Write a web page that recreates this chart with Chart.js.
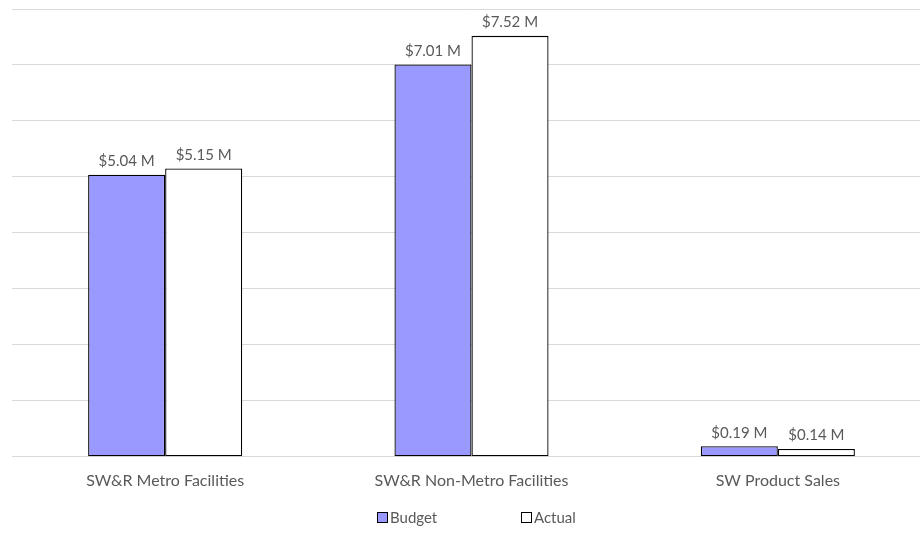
<!DOCTYPE html>
<html>
<head>
<meta charset="utf-8">
<script src="https://cdn.jsdelivr.net/npm/chart.js@4.4.1/dist/chart.umd.min.js"></script>
<style>
    html, body { margin: 0; padding: 0; background: #fff; overflow: hidden; }
    #wrap { width: 920px; height: 542px; overflow: hidden; }
</style>
</head>
<body>
<div id="wrap"><canvas id="budgetChart" width="932" height="542"></canvas></div>
<script>
// Budget vs actual, in millions of dollars
const categories = ['SW&R Metro Facilities', 'SW&R Non-Metro Facilities', 'SW Product Sales'];
const budgetValues = [5.04, 7.01, 0.19];
const actualValues = [5.15, 7.52, 0.14];
const seriesNames = ['Budget', 'Actual'];

const FONT = 'Lato, sans-serif';
const TEXT_COLOR = '#595959';

/**
 * Value labels above each bar
 */
const valueLabels = {
    id: 'valueLabels',
    afterDatasetsDraw(chart) {
        const ctx = chart.ctx;
        ctx.save();
        ctx.font = '15px ' + FONT;
        ctx.fillStyle = TEXT_COLOR;
        ctx.textAlign = 'center';
        ctx.textBaseline = 'bottom';
        chart.data.datasets.forEach((ds, i) => {
            chart.getDatasetMeta(i).data.forEach((bar, j) => {
                ctx.fillText('$' + ds.data[j].toFixed(2) + ' M', bar.x, bar.y - 6);
            });
        });
        ctx.restore();
    }
};

/**
 * Legend drawn under the axis, spaced like the office-style legend
 */
const bottomLegend = {
    id: 'bottomLegend',
    afterDraw(chart) {
        const ctx = chart.ctx;
        const starts = [377, 521];
        const y = 518;
        ctx.save();
        ctx.font = '15px ' + FONT;
        ctx.textBaseline = 'middle';
        chart.data.datasets.forEach((ds, i) => {
            const x = starts[i];
            ctx.fillStyle = ds.backgroundColor;
            ctx.fillRect(x + 0.5, y - 5.5, 10, 10);
            ctx.strokeStyle = '#000';
            ctx.lineWidth = 1;
            ctx.strokeRect(x + 0.5, y - 5.5, 10, 10);
            ctx.fillStyle = TEXT_COLOR;
            ctx.fillText(ds.label, x + 13, y);
        });
        ctx.restore();
    }
};

function initBudgetChart() {
    const ctx = document.getElementById('budgetChart');

    new Chart(ctx, {
        type: 'bar',
        data: {
            labels: categories,
            datasets: [
                {
                    label: seriesNames[0],
                    data: budgetValues,
                    backgroundColor: '#9999ff',
                    borderColor: '#000000',
                    borderWidth: 1.3,
                    borderSkipped: false
                },
                {
                    label: seriesNames[1],
                    data: actualValues,
                    backgroundColor: '#ffffff',
                    borderColor: '#000000',
                    borderWidth: 1.3,
                    borderSkipped: false
                }
            ]
        },
        options: {
            responsive: false,
            animation: false,
            layout: {
                padding: { left: 12, top: 9, right: 1, bottom: 38 }
            },
            datasets: {
                bar: {
                    categoryPercentage: 0.503,
                    barPercentage: 1
                }
            },
            plugins: {
                legend: { display: false },
                tooltip: { enabled: false }
            },
            scales: {
                y: {
                    min: 0,
                    max: 8,
                    ticks: { display: false, stepSize: 1 },
                    grid: { color: '#d9d9d9', drawTicks: false },
                    border: { display: false }
                },
                x: {
                    ticks: {
                        color: TEXT_COLOR,
                        font: { size: 16, family: FONT },
                        padding: 14
                    },
                    grid: { display: false, drawTicks: false },
                    border: { display: true, color: '#d9d9d9' }
                }
            }
        },
        plugins: [valueLabels, bottomLegend]
    });
}

document.addEventListener('DOMContentLoaded', initBudgetChart);
</script>
</body>
</html>
